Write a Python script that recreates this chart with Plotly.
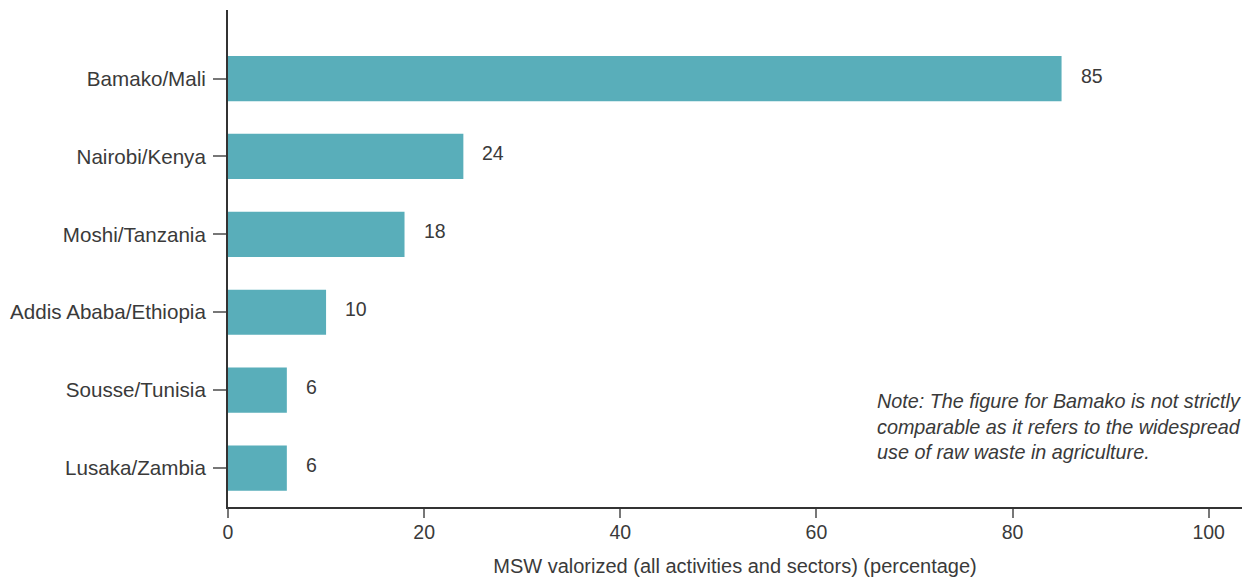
import plotly.graph_objects as go

cities = ["Lusaka/Zambia", "Sousse/Tunisia", "Addis Ababa/Ethiopia",
          "Moshi/Tanzania", "Nairobi/Kenya", "Bamako/Mali"]
values = [6, 6, 10, 18, 24, 85]
value_labels = ["6", "6", "10", "18", "24", "85"]
x_ticks = [0, 20, 40, 60, 80, 100]

FONT = "Liberation Sans, Arial, Helvetica, sans-serif"
TXT = "#3a3a3a"
FS = 20

fig = go.Figure(go.Bar(
    x=values, y=cities, orientation="h",
    marker=dict(color="#59aeba", line=dict(width=0)),
    width=0.58, hoverinfo="skip",
))

for v, c, t in zip(values, cities, value_labels):
    fig.add_annotation(x=v, y=c, text=t, showarrow=False, xanchor="left",
                       xshift=17, yshift=3, font=dict(family=FONT, size=FS - 0.5, color=TXT))

fig.add_annotation(
    xref="paper", yref="paper", x=0.638, y=0.240, xanchor="left", yanchor="top",
    align="left", showarrow=False,
    text="<i>Note: The figure for Bamako is not strictly<br>comparable as it refers to the widespread<br>use of raw waste in agriculture.</i>",
    font=dict(family=FONT, size=FS - 0.2, color=TXT),
)

fig.update_layout(
    width=1248, height=579,
    margin=dict(l=228, r=6, t=10, b=72),
    paper_bgcolor="white", plot_bgcolor="white",
    showlegend=False,
    font=dict(family=FONT, size=FS, color=TXT),
    xaxis=dict(
        range=[0, 103.4], tickvals=x_ticks, showgrid=False, zeroline=False,
        showline=True, linecolor="#333333", linewidth=2,
        ticks="outside", ticklen=9, tickcolor="#777777", tickwidth=1.5,
        ticklabelstandoff=-2,
        tickfont=dict(family=FONT, size=FS - 0.5, color=TXT),
        title=dict(text="MSW valorized (all activities and sectors) (percentage)",
                   font=dict(family=FONT, size=FS, color=TXT), standoff=17),
    ),
    yaxis=dict(
        range=[-0.5, 5.88], showgrid=False, zeroline=False,
        showline=True, linecolor="#333333", linewidth=2,
        ticks="outside", ticklen=13, tickcolor="#777777", tickwidth=1.5,
        ticklabelstandoff=3,
        tickfont=dict(family=FONT, size=FS + 0.6, color=TXT),
    ),
)

fig.write_html("out.html", config={"displayModeBar": False},
               post_script="document.body.style.margin='0';document.body.style.overflow='hidden';")
